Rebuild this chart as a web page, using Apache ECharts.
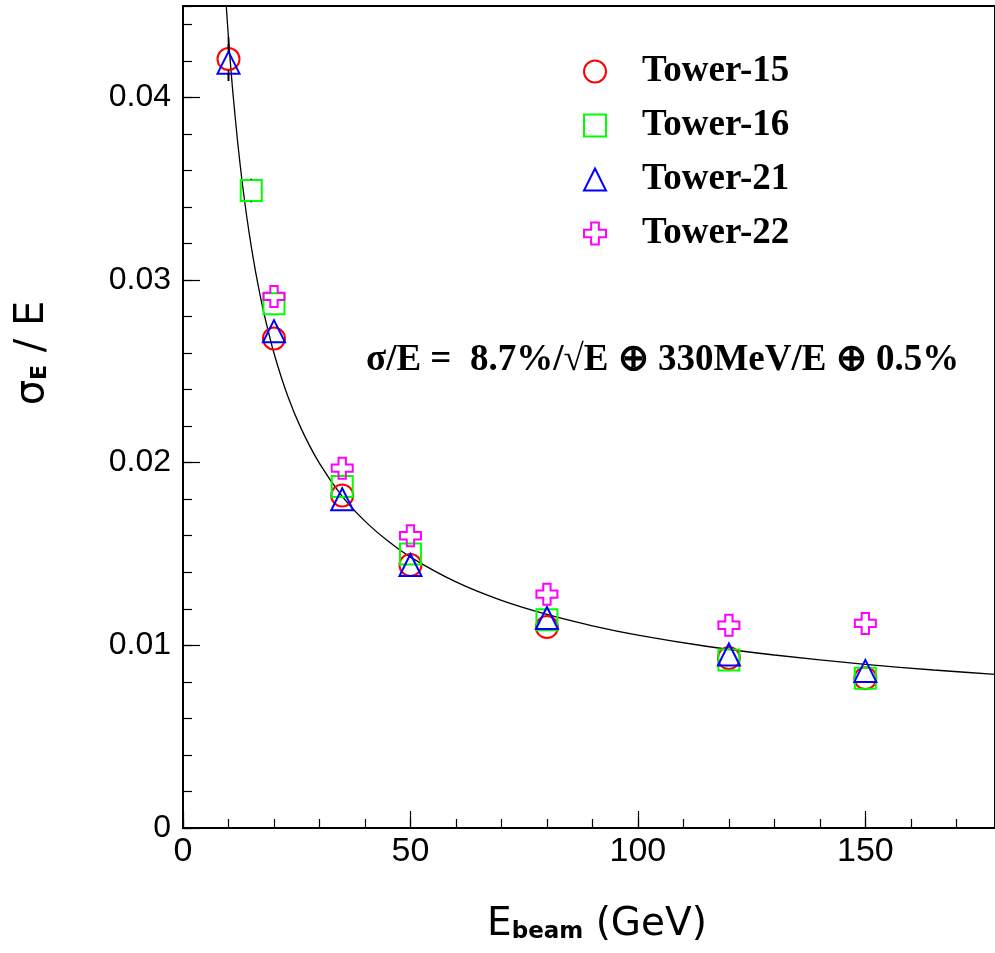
<!DOCTYPE html>
<html>
<head>
<meta charset="utf-8">
<title>sigma/E vs Ebeam</title>
<script src="https://cdn.jsdelivr.net/npm/echarts@6/dist/echarts.min.js"></script>
<style>
  html, body { margin: 0; padding: 0; background: #fff; }
  #chart { width: 995px; height: 953px; }
</style>
</head>
<body>
<div id="chart"></div>
<script>
// 各塔的束流能量 (GeV) 与能量分辨率 sigma/E
var energy15 = [10, 20, 35, 50, 80, 120, 150];
var tower15 = [0.0421, 0.0268, 0.0182, 0.0144, 0.0110, 0.0093, 0.0082];
var tower15Err = [0.0012, 0.0003, 0.0003, 0.0003, 0.0003, 0.0003, 0.0003];

var energy16 = [15, 20, 35, 50, 80, 120, 150];
var tower16 = [0.0349, 0.0287, 0.0187, 0.0150, 0.0114, 0.0092, 0.0082];
var tower16Err = [0.00065, 0.0003, 0.0003, 0.0003, 0.0003, 0.0003, 0.0003];

var energy21 = [10, 20, 35, 50, 80, 120, 150];
var tower21 = [0.0419, 0.0272, 0.0180, 0.0144, 0.0115, 0.0095, 0.0086];
var tower21Err = [0.0010, 0.0003, 0.0003, 0.0003, 0.0003, 0.0003, 0.0003];

var energy22 = [20, 35, 50, 80, 120, 150];
var tower22 = [0.0291, 0.0197, 0.0160, 0.0128, 0.0111, 0.0112];
var tower22Err = [0.0003, 0.0003, 0.0003, 0.0003, 0.0003, 0.0003];

// 拟合曲线，沿图中的黑线读取
var fitE = [9.5, 10, 10.5, 11, 12, 13, 14, 15, 16, 17, 18, 20, 23, 26, 30, 35, 40, 45, 50, 60, 70, 80, 90, 100, 115, 130, 150, 165, 180];
var fitV = [0.04504, 0.04325, 0.04164, 0.04016, 0.03758, 0.03538, 0.03349, 0.03184, 0.03039, 0.02910,
  0.02796, 0.02599, 0.02366, 0.02185, 0.01996, 0.01816, 0.01680, 0.01572, 0.01483, 0.01347,
  0.01246, 0.01169, 0.01107, 0.01056, 0.00995, 0.00947, 0.00896, 0.00865, 0.00839];

var seriesNames = ['Tower-15', 'Tower-16', 'Tower-21', 'Tower-22'];
var formulaText = 'σ/E =  8.7%/√E ⊕ 330MeV/E ⊕ 0.5%';

var xMax = 178.5;
var yMax = 0.045;

function pairs(xs, ys, errs) {
  var arr = [];
  for (var i = 0; i < xs.length; i++) {
    arr.push(errs ? [xs[i], ys[i], errs[i]] : [xs[i], ys[i]]);
  }
  return arr;
}

// 误差棒：只画标记外面的部分
function errorBar(params, api) {
  var x = api.value(0), y = api.value(1), e = api.value(2);
  var top = api.coord([x, y + e]);
  var mid = api.coord([x, y]);
  var bot = api.coord([x, y - e]);
  var half = 11;
  var style = { stroke: '#000', lineWidth: 1.6 };
  var children = [];
  if (mid[1] - top[1] > half) {
    children.push({ type: 'line', shape: { x1: mid[0], y1: top[1], x2: mid[0], y2: mid[1] - half }, style: style });
  }
  if (bot[1] - mid[1] > half) {
    children.push({ type: 'line', shape: { x1: mid[0], y1: mid[1] + half, x2: mid[0], y2: bot[1] }, style: style });
  }
  return { type: 'group', children: children };
}

function markerSeries(name, symbol, size, color, data) {
  return {
    name: name,
    type: 'scatter',
    symbol: symbol,
    symbolSize: size,
    data: data,
    z: 5,
    itemStyle: { color: 'transparent', borderColor: color, borderWidth: 2, opacity: 1 },
    emphasis: { disabled: true }
  };
}

function errSeries(data) {
  return {
    type: 'custom',
    renderItem: errorBar,
    data: data,
    z: 6,
    silent: true
  };
}

var crossPath = 'path://M6.5,0H13.5V6.5H20V13.5H13.5V20H6.5V13.5H0V6.5H6.5Z';

var node = document.getElementById('chart');
var chart = echarts.init(node, null, { renderer: 'canvas' });

var tickLabel = { fontFamily: 'Liberation Sans', color: '#000' };

var option = {
  backgroundColor: '#fff',
  animation: false,
  grid: {
    left: 183, top: 6, width: 815, height: 822,
    show: true, borderColor: '#000', borderWidth: 2, backgroundColor: 'transparent'
  },
  legend: {
    data: seriesNames,
    orient: 'vertical',
    left: 578,
    top: 48,
    itemWidth: 22,
    itemHeight: 22,
    itemGap: 17,
    selectedMode: false,
    textStyle: {
      fontFamily: 'Liberation Serif', fontWeight: 'bold', fontSize: 37, color: '#000',
      lineHeight: 35, padding: [0, 0, 0, 31]
    }
  },
  xAxis: [{
    type: 'value', min: 0, max: xMax, interval: 50,
    axisLine: { show: true, onZero: false, lineStyle: { color: '#000', width: 2 } },
    axisTick: { inside: true, length: 17, lineStyle: { color: '#000', width: 1.2 } },
    axisLabel: Object.assign({ fontSize: 34, margin: 7, showMaxLabel: false }, tickLabel),
    splitLine: { show: false }
  }, {
    type: 'value', min: 0, max: xMax, interval: 10, position: 'bottom',
    axisLine: { show: false },
    axisTick: { inside: true, length: 9, lineStyle: { color: '#000', width: 1.2 } },
    axisLabel: { show: false },
    splitLine: { show: false }
  }],
  yAxis: [{
    type: 'value', min: 0, max: yMax, interval: 0.01,
    axisLine: { show: true, onZero: false, lineStyle: { color: '#000', width: 2 } },
    axisTick: { inside: true, length: 17, lineStyle: { color: '#000', width: 1.2 } },
    axisLabel: Object.assign({ fontSize: 32, margin: 12, showMaxLabel: false }, tickLabel),
    splitLine: { show: false }
  }, {
    type: 'value', min: 0, max: yMax, interval: 0.002, position: 'left',
    axisLine: { show: false },
    axisTick: { inside: true, length: 9, lineStyle: { color: '#000', width: 1.2 } },
    axisLabel: { show: false },
    splitLine: { show: false }
  }],
  series: [
    {
      type: 'line',
      data: pairs(fitE, fitV),
      showSymbol: false,
      smooth: 0.25,
      clip: true,
      z: 2,
      silent: true,
      lineStyle: { color: '#000', width: 1.3 }
    },
    markerSeries('Tower-15', 'circle', 22, '#ff0000', pairs(energy15, tower15)),
    markerSeries('Tower-16', 'rect', 21, '#00ff00', pairs(energy16, tower16)),
    markerSeries('Tower-21', 'triangle', 22, '#0000ff', pairs(energy21, tower21)),
    markerSeries('Tower-22', crossPath, 21, '#ff00ff', pairs(energy22, tower22)),
    errSeries(pairs(energy15, tower15, tower15Err)),
    errSeries(pairs(energy16, tower16, tower16Err)),
    errSeries(pairs(energy21, tower21, tower21Err)),
    errSeries(pairs(energy22, tower22, tower22Err))
  ],
  graphic: [
    {
      // 拟合公式
      type: 'text', x: 366, y: 360, z: 10,
      style: {
        text: formulaText, fill: '#000',
        fontFamily: 'Liberation Serif', fontWeight: 'bold', fontSize: 37,
        verticalAlign: 'middle'
      }
    },
    {
      // Y 轴标题
      type: 'text', x: 33, y: 353, rotation: Math.PI / 2, z: 10,
      style: {
        text: '{s|σ}{sub|E}{s| / E}',
        align: 'center', verticalAlign: 'middle',
        rich: {
          s: { fontFamily: 'DejaVu Sans', fontSize: 40, fill: '#000' },
          sub: { fontFamily: 'DejaVu Sans', fontSize: 22, fontWeight: 'bold', fill: '#000', padding: [14, 0, 0, 0] }
        }
      }
    },
    {
      // X 轴标题
      type: 'text', x: 597, y: 925, z: 10,
      style: {
        text: '{s|E}{sub|beam}{s| (GeV)}',
        align: 'center', verticalAlign: 'middle',
        rich: {
          s: { fontFamily: 'DejaVu Sans', fontSize: 39, fill: '#000' },
          sub: { fontFamily: 'DejaVu Sans', fontSize: 23, fontWeight: 'bold', fill: '#000', padding: [14, 0, 0, 0] }
        }
      }
    }
  ]
};

chart.setOption(option);
</script>
</body>
</html>
